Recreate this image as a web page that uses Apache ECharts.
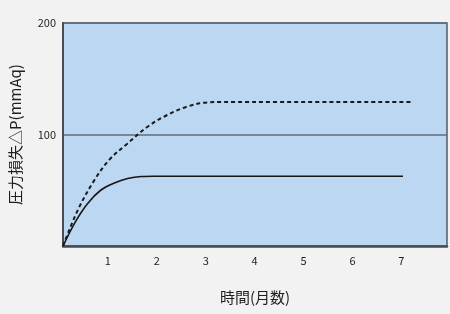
<!DOCTYPE html>
<html>
<head>
<meta charset="utf-8">
<script src="https://cdn.jsdelivr.net/npm/echarts@6/dist/echarts.min.js"></script>
<style>
html,body{margin:0;padding:0;background:#f2f2f2;}
#c{width:450px;height:314px;}
</style>
</head>
<body>
<div id="c"></div>
<script>
// Data
const xTickLabels = [1, 2, 3, 4, 5, 6, 7];
const yTickLabels = [100, 200];
const solidX = [0, 0.25, 0.5, 0.77, 1.05, 1.32, 1.6, 1.85, 6.95];
const solidY = [0, 21.5, 38, 50, 56.5, 60.5, 62.3, 62.5, 62.5];
const dashedX = [0, 0.3, 0.64, 0.95, 1.32, 1.73, 2.13, 2.54, 2.95, 3.3, 7.16];
const dashedY = [0, 32, 59, 77.5, 92, 107, 117.5, 125, 128.8, 129.2, 129.2];
const xTitle = '時間(月数)';
const yTitle = '圧力損失△P(mmAq)';

const FONT = '"Noto Sans CJK JP", "Noto Sans", sans-serif';
const zip = (xs, ys) => xs.map((x, i) => [x, ys[i]]);

const chart = echarts.init(document.getElementById('c'), null, {renderer: 'canvas'});
chart.setOption({
  backgroundColor: '#f2f2f2',
  animation: false,
  grid: {
    left: 62, right: 3, top: 23, bottom: 68,
    show: true, backgroundColor: '#bbd7f1',
    borderColor: '#555b63', borderWidth: 1.5
  },
  xAxis: {
    type: 'value', min: 0, max: 7.85, interval: 1,
    axisLine: {show: true, lineStyle: {color: '#474c52', width: 2.5}},
    axisTick: {show: false},
    splitLine: {show: false},
    axisLabel: {
      margin: 9, color: '#1e1e1e', fontSize: 11, fontFamily: FONT,
      padding: [0, 8, 0, 0],
      formatter: v => xTickLabels.includes(v) ? String(v) : ''
    },
    name: xTitle, nameLocation: 'middle', nameGap: 44,
    nameTextStyle: {color: '#1e1e1e', fontSize: 15, fontFamily: FONT}
  },
  yAxis: {
    type: 'value', min: 0, max: 200, interval: 100,
    axisLine: {show: true, lineStyle: {color: '#474c52', width: 2}},
    axisTick: {show: false},
    splitLine: {show: true, lineStyle: {color: '#5f6e7c', width: 1.5}},
    axisLabel: {
      margin: 7, color: '#1e1e1e', fontSize: 11, fontFamily: FONT,
      formatter: v => yTickLabels.includes(v) ? String(v) : ''
    },
    name: yTitle, nameLocation: 'middle', nameGap: 40, nameRotate: 90,
    nameTextStyle: {color: '#1e1e1e', fontSize: 15, fontFamily: FONT}
  },
  series: [
    {
      type: 'line', data: zip(solidX, solidY), smooth: 0.35,
      symbol: 'none', lineStyle: {color: '#161616', width: 1.6, type: 'solid'}
    },
    {
      type: 'line', data: zip(dashedX, dashedY), smooth: 0.35,
      symbol: 'none', lineStyle: {color: '#1a1a1a', width: 2, type: [4, 3]}
    }
  ]
});
</script>
</body>
</html>
